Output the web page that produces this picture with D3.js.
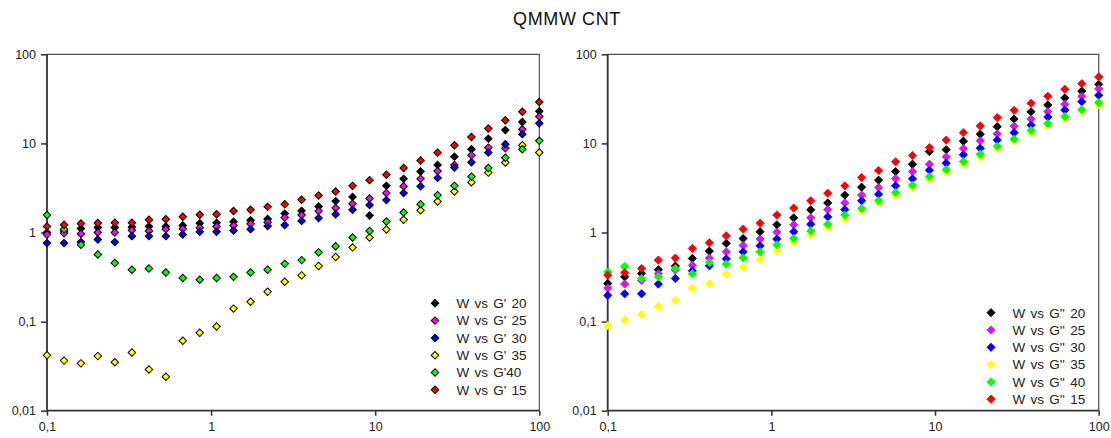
<!DOCTYPE html>
<html><head><meta charset="utf-8">
<script src="https://cdn.jsdelivr.net/npm/d3@7"></script>
<style>body{margin:0;background:#fff}svg{display:block}text{font-family:"Liberation Sans",Arial,sans-serif}</style>
</head><body>
<svg id="c" width="1111" height="438"></svg>
<script>
const title = "QMMW CNT";
const xVals = [0.1,0.127,0.161,0.204,0.259,0.329,0.418,0.530,0.672,0.853,1.08,1.37,1.74,2.21,2.81,3.56,4.52,5.74,7.28,9.24,11.7,14.9,18.9,24.0,30.4,38.6,48.9,62.1,78.8,100];
const xTicks = [0.1,1,10,100];
const yTicks = [0.01,0.1,1,10,100];
const tickLabels = ["0,01","0,1","1","10","100"];
const xTickLabels = ["0,1","1","10","100"];

const seriesColors = ["#000000","#ff00ff","#0000ff","#ffff00","#00ff00","#ff0000"];
const leftNames = ["W vs G' 20","W vs G' 25","W vs G' 30","W vs G' 35","W vs G'40","W vs G' 15"];
const rightNames = ["W vs G'' 20","W vs G'' 25","W vs G'' 30","W vs G'' 35","W vs G'' 40","W vs G'' 15"];

// G' (left)
const gp20 = [1.0,1.04,1.11,1.14,1.14,1.15,1.17,1.17,1.2,1.27,1.29,1.32,1.37,1.42,1.63,1.75,1.96,2.25,2.51,1.55,3.34,4.0,4.83,5.74,7.1,8.6,11.3,14.1,17.4,23.0];
const gp25 = [0.95,0.98,0.97,1.0,1.0,1.06,1.04,1.09,1.1,1.13,1.17,1.2,1.25,1.3,1.47,1.57,1.74,1.88,2.1,2.41,2.77,3.31,4.0,4.9,5.74,7.38,8.97,8.85,14.4,20.0];
const gp30 = [0.76,0.76,0.78,0.835,0.78,0.91,0.91,0.91,0.95,1.02,1.02,1.05,1.09,1.18,1.21,1.35,1.45,1.6,1.8,2.03,2.31,2.77,3.31,4.1,5.36,6.15,7.88,9.8,12.7,16.8];
const gp35 = [0.042,0.0365,0.034,0.041,0.035,0.045,0.029,0.024,0.061,0.075,0.088,0.14,0.167,0.216,0.28,0.33,0.42,0.53,0.68,0.88,1.08,1.39,1.78,2.23,2.88,3.67,4.7,6.1,9.55,7.9];
const gp40 = [1.57,1.09,0.73,0.567,0.454,0.382,0.395,0.356,0.308,0.295,0.308,0.318,0.356,0.382,0.445,0.49,0.6,0.70,0.88,1.04,1.33,1.68,2.08,2.63,3.34,4.24,5.3,6.9,8.6,10.7];
const gp15 = [1.17,1.22,1.26,1.28,1.29,1.29,1.39,1.41,1.5,1.58,1.6,1.74,1.8,1.94,2.08,2.33,2.6,2.88,3.34,3.87,4.44,5.3,6.42,7.87,9.55,11.8,14.7,18.2,22.7,29.2];

// G'' (right)
const gpp20 = [0.268,0.318,0.347,0.382,0.42,0.511,0.619,0.753,0.856,1.02,1.22,1.46,1.80,2.15,2.63,3.23,3.87,4.83,5.84,8.1,8.5,10.6,12.7,15.4,18.8,22.6,27.0,32.4,38.6,46.0];
const gpp25 = [0.238,0.264,0.29,0.344,0.38,0.427,0.516,0.608,0.715,0.843,1.01,1.22,1.46,1.81,2.15,2.63,3.2,4.03,4.83,5.84,7.06,8.75,10.7,12.8,15.6,18.7,22.8,27.5,33.8,41.0];
const gpp30 = [0.197,0.205,0.205,0.264,0.305,0.372,0.423,0.507,0.608,0.709,0.843,1.02,1.24,1.5,1.81,2.27,2.69,3.34,4.0,5.0,6.0,7.45,8.84,10.9,13.2,16.0,19.8,23.7,29.4,34.7];
const gpp35 = [0.09,0.104,0.12,0.148,0.173,0.238,0.266,0.341,0.405,0.5,0.623,0.79,0.935,1.14,1.41,1.75,2.15,2.63,3.2,3.97,4.75,5.84,7.06,8.75,10.7,13.0,16.0,19.2,23.1,27.1];
const gpp40 = [0.36,0.416,0.305,0.318,0.395,0.344,0.46,0.442,0.52,0.608,0.728,0.857,1.04,1.24,1.57,1.86,2.27,2.81,3.4,4.24,5.09,6.25,7.6,9.3,11.2,14.0,16.7,20.0,23.9,28.7];
const gpp15 = [0.333,0.354,0.395,0.49,0.516,0.662,0.767,0.918,1.09,1.27,1.57,1.88,2.27,2.76,3.34,4.14,4.95,6.21,7.3,8.97,10.9,13.2,15.7,19.5,23.5,28.2,33.8,40.5,46.8,55.7];

const leftSeries = [gp20,gp25,gp30,gp35,gp40,gp15];
const rightSeries = [gpp20,gpp25,gpp30,gpp35,gpp40,gpp15];

const svg = d3.select("#c");
svg.append("text").attr("x",567).attr("y",24.5).attr("text-anchor","middle")
  .attr("font-size",18).attr("letter-spacing",0.6).attr("fill","#111").text(title);

function panel(x0, x1, series, names, left, legX, legY) {
  const y0 = 54.3, y1 = 410.7;
  const x = d3.scaleLog().domain([0.1,100]).range([x0,x1]);
  const y = d3.scaleLog().domain([0.01,100]).range([y1,y0]);
  const g = svg.append("g");
  g.append("path").attr("d",`M${x0},${y0}H${x1}V${y1}`).attr("fill","none").attr("stroke","#505050").attr("stroke-width",1.2);
  const ax = g.append("g").attr("transform",`translate(0,${y1})`)
    .call(d3.axisBottom(x).tickValues(xTicks).tickSize(5).tickPadding(6).tickFormat((d,i)=>xTickLabels[i]));
  const ay = g.append("g").attr("transform",`translate(${x0},0)`)
    .call(d3.axisLeft(y).tickValues(yTicks).tickSize(6).tickPadding(5).tickFormat((d,i)=>tickLabels[i]));
  [ax,ay].forEach(a=>{
    a.select(".domain").attr("stroke","#303030").attr("stroke-width",1.8);
    a.selectAll(".tick line").attr("stroke","#303030").attr("stroke-width",1.5);
    a.selectAll(".tick text").attr("font-size",12.5).attr("fill","#222").attr("font-family","Liberation Sans, Arial, sans-serif");
  });
  ax.select(".domain").attr("d",`M${x0},0H${x1}`);
  ay.select(".domain").attr("d",`M0,${y1}V${y0}`);
  const sym = d3.symbol().type(d3.symbolSquare).size(left ? 28 : 34);
  series.forEach((vals,k)=>{
    const stroke = left ? "#000" : (k===1 ? "#4d4dff" : seriesColors[k]);
    g.append("g").selectAll("path").data(vals.map((v,i)=>[xVals[i],v])).join("path")
      .attr("d",sym)
      .attr("transform",d=>`translate(${x(d[0])},${y(d[1])}) rotate(45)`)
      .attr("fill",seriesColors[k]).attr("stroke",stroke).attr("stroke-width",left?1:0.8);
  });
  const lg = g.append("g");
  names.forEach((n,k)=>{
    const cy = legY + k*17.3;
    lg.append("path").attr("d",sym).attr("transform",`translate(${legX},${cy}) rotate(45)`)
      .attr("fill",seriesColors[k]).attr("stroke", left ? "#000" : (k===1 ? "#4d4dff" : seriesColors[k])).attr("stroke-width",left?1:0.8);
    lg.append("text").attr("x",legX+21.5).attr("y",cy+4.8).attr("font-size",13.5).attr("word-spacing",1.5).attr("fill","#222").text(n);
  });
}
panel(47, 539.3, leftSeries, leftNames, true, 435, 303.3);
panel(607.7, 1098.7, rightSeries, rightNames, false, 991, 312.7);
</script>
</body></html>
